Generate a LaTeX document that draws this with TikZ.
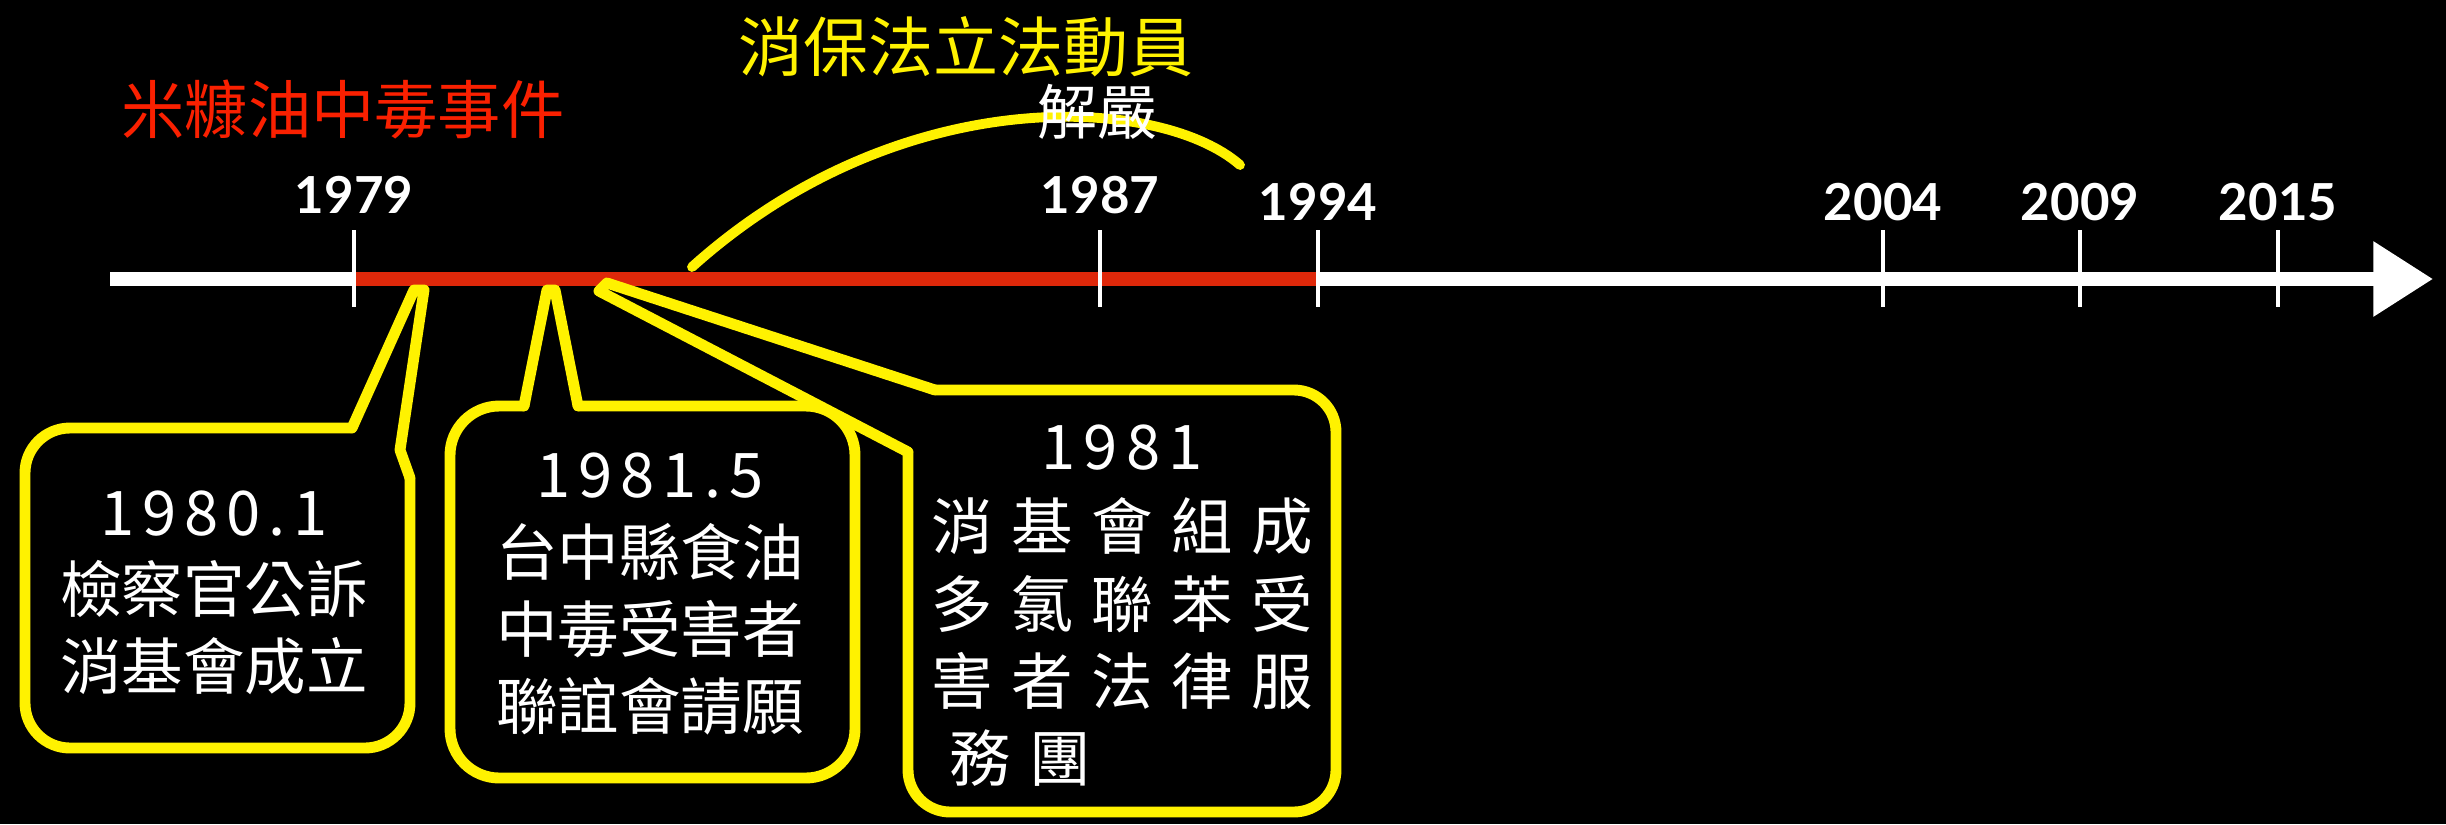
\documentclass[tikz,border=0pt]{standalone}
\usepackage{fontspec}
\setmainfont{Lato}
\newfontfamily\cjk{Noto Sans CJK TC}
\usetikzlibrary{arrows.meta}
\definecolor{chalkred}{RGB}{222,40,10}
\definecolor{titlered}{RGB}{250,32,0}
\definecolor{chalkyellow}{RGB}{255,242,0}
\newcommand{\tsp}{\hspace{.13em}}
\newcommand{\wsp}{\hspace{.3em}}

\begin{document}
\begin{tikzpicture}[x=0.01cm, y=-0.01cm,
  year/.style={white, font=\fontsize{14.5}{17}\selectfont\bfseries},
  tick/.style={white, line width=1.1pt},
  bubble/.style={chalkyellow, line width=3.1pt, line join=round, line cap=round},
  note/.style={white, align=center, font=\cjk\fontsize{17.5}{21.9}\selectfont}]
\useasboundingbox (0,0) rectangle (2446,824);
\fill[black] (0,0) rectangle (2446,824);
\coordinate (start) at (110,279);
\coordinate (end) at (2433,279);
\coordinate (t1979) at (354,279);
\coordinate (t1994) at (1318,279);
\draw[white, line width=3.7pt, -{Triangle[length=17pt, width=20.5pt]}] (start) -- (end);
\draw[chalkred, line width=3.7pt] (t1979) -- (t1994);
\foreach \x/\yr/\ly in {354/1979/195, 1100/1987/195, 1318/1994/202, 1883/2004/202, 2080/2009/202, 2278/2015/202} {
  \draw[tick] (\x,230) -- (\x,307);
  \node[year] (y\yr) at (\x,\ly) {\yr};
}
\node[text=titlered, font=\cjk\fontsize{18}{20}\selectfont] (event) at (343,110) {米糠油中毒事件};
\node[text=chalkyellow, font=\cjk\fontsize{18.5}{20}\selectfont] (lobby) at (966,47) {消保法立法動員};
\coordinate (arcA) at (692,267);
\coordinate (arcB) at (1240,165);
\draw[chalkyellow, line width=2.8pt, line cap=round] (arcA) .. controls (900,80) and (1160,95) .. (arcB);
\node[white, font=\cjk\fontsize{17}{20}\selectfont] (lift) at (1097,112) {解嚴};
% 1980.1
\draw[bubble, rounded corners=12.8pt] (352,428) -- (25,428) -- (25,748) -- (410,748) -- (410,478);
\draw[bubble] (352,428) -- (414,290) -- (424,290) -- (400,450) -- (410,478);
% 1981.5
\draw[bubble, rounded corners=14pt] (524,406) -- (450,406) -- (450,778) -- (855,778) -- (855,406) -- (578,406);
\draw[bubble] (524,406) -- (547,290) -- (555,290) -- (578,406);
% 1981
\draw[bubble, rounded corners=12pt] (935,390) -- (1336,390) -- (1336,812) -- (908,812) -- (908,452);
\draw[bubble] (908,452) -- (599,291) -- (607,283) -- (935,390);
\node[note] (n1) at (214,593) {1\tsp9\tsp8\tsp0\tsp.\tsp1\\檢察官公訴\\消基會成立};
\node[note] (n2) at (650,594) {1\tsp9\tsp8\tsp1\tsp.\tsp5\\台中縣食油\\中毒受害者\\聯誼會請願};
\node[note] (n3y) at (1122,448) {1\tsp9\tsp8\tsp1};
\node[note, align=left] (n3) at (1122,642) {消\wsp{}基\wsp{}會\wsp{}組\wsp{}成\\多\wsp{}氯\wsp{}聯\wsp{}苯\wsp{}受\\害\wsp{}者\wsp{}法\wsp{}律\wsp{}服\\\hspace*{.3em}務\wsp{}團};
\end{tikzpicture}
\end{document}
